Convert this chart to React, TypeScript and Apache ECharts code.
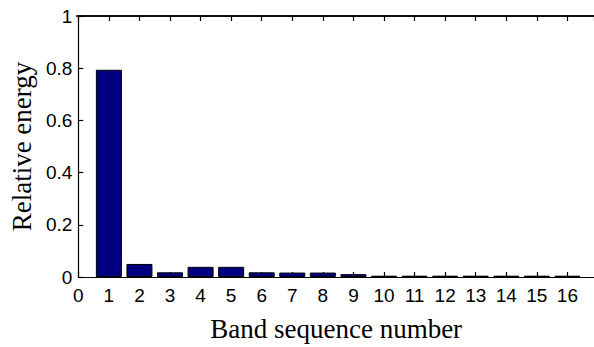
import React, { useEffect, useRef } from "react";
import * as echarts from "echarts";

const bands = [1, 2, 3, 4, 5, 6, 7, 8, 9, 10, 11, 12, 13, 14, 15, 16];
const energy = [0.794, 0.05, 0.018, 0.039, 0.039, 0.018, 0.017, 0.017, 0.011, 0.005, 0.005, 0.005, 0.005, 0.005, 0.005, 0.005];
const yTicks = [0, 0.2, 0.4, 0.6, 0.8, 1];
const xMax = 16.87;

export default function App() {
  const ref = useRef<HTMLDivElement>(null);
  useEffect(() => {
    const chart = echarts.init(ref.current!, undefined, { renderer: "svg" });
    const labelFont = { fontFamily: "Liberation Sans", fontSize: 19, color: "#000" };
    const xFmt = (v: number) => (Number.isInteger(v) && v <= 16 ? String(v) : "");
    chart.setOption({
      animation: false,
      backgroundColor: "#fff",
      grid: { left: 76, right: 0, top: 16, bottom: 66 },
      graphic: [
        {
          type: "line",
          z: 100,
          shape: { x1: 76, y1: 16, x2: 594, y2: 16 },
          style: { stroke: "#000", lineWidth: 1.5 },
          silent: true,
        },
      ],
      xAxis: [
        {
          type: "value",
          min: 0,
          max: xMax,
          interval: 1,
          position: "bottom",
          name: "Band sequence number",
          nameLocation: "middle",
          nameGap: 38,
          nameTextStyle: { fontFamily: "Liberation Serif", fontSize: 27, color: "#000", verticalAlign: "top" },
          axisLine: { show: true, onZero: false, lineStyle: { color: "#000", width: 1.2 } },
          axisTick: { show: true, inside: true, length: 5, lineStyle: { color: "#000", width: 1.2 } },
          axisLabel: { ...labelFont, margin: 9, formatter: xFmt, showMaxLabel: false },
          splitLine: { show: false },
        },
        {
          type: "value",
          min: 0,
          max: xMax,
          interval: 1,
          position: "top",
          axisLine: { show: true, onZero: false, lineStyle: { color: "#000", width: 1.5 } },
          axisTick: { show: true, inside: true, length: 5, lineStyle: { color: "#000", width: 1.2 } },
          axisLabel: { show: false },
          splitLine: { show: false },
        },
      ],
      yAxis: {
        type: "value",
        min: 0,
        max: 1,
        interval: 0.2,
        name: "Relative energy",
        nameLocation: "middle",
        nameGap: 38,
        nameTextStyle: { fontFamily: "Liberation Serif", fontSize: 27, color: "#000" },
        axisLine: { show: true, lineStyle: { color: "#000", width: 1.2 } },
        axisTick: { show: true, inside: true, length: 5, lineStyle: { color: "#000", width: 1.2 } },
        axisLabel: {
          ...labelFont,
          margin: 6,
          formatter: (v: number) => {
            const t = yTicks.find((x) => Math.abs(x - v) < 1e-9);
            return t === undefined ? "" : String(t);
          },
        },
        splitLine: { show: false },
      },
      series: [
        {
          type: "bar",
          xAxisIndex: 0,
          data: bands.map((b, i) => [b, energy[i]]),
          barWidth: 26,
          itemStyle: { color: "#000080", borderColor: "#000", borderWidth: 1 },
        },
      ],
    });
    return () => chart.dispose();
  }, []);
  return <div ref={ref} style={{ width: 594, height: 347, position: "absolute", left: 0, top: 0 }} />;
}
